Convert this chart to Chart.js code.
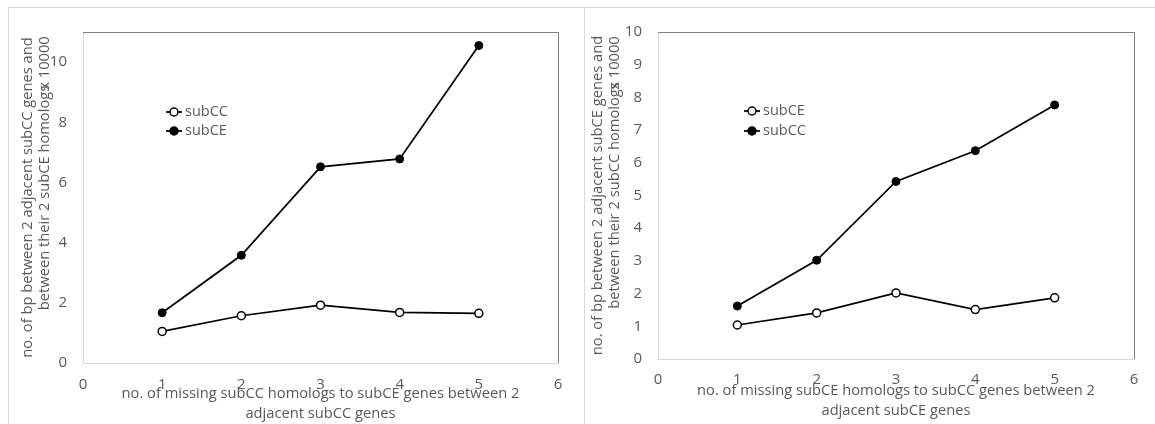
<!DOCTYPE html>
<html lang="en">
<head>
  <meta charset="UTF-8">
  <title>bp between adjacent genes vs missing homologs</title>
  <script src="https://cdn.jsdelivr.net/npm/chart.js"></script>
  <style>
    body { margin: 0; background: #fff; width: 1155px; height: 424px; overflow: hidden; position: relative; }
    .frame { position: absolute; top: 7px; height: 440px; border: 1px solid #d9d9d9; box-sizing: border-box; }
    #frameLeft { left: 8px; width: 577px; }
    #frameRight { left: 584px; width: 600px; }
    canvas { position: absolute; top: 7px; }
    #leftChart { left: 8px; }
    #rightChart { left: 584px; }
  </style>
</head>
<body>
  <div class="frame" id="frameLeft"></div>
  <div class="frame" id="frameRight"></div>
  <canvas id="leftChart" width="576" height="417"></canvas>
  <canvas id="rightChart" width="571" height="417"></canvas>
  <script>
    // x = no. of missing homologs
    const xValues = [1, 2, 3, 4, 5];

    // left panel (subCC genes)
    const leftSubCC = [1.05, 1.57, 1.92, 1.68, 1.65];
    const leftSubCE = [1.67, 3.58, 6.52, 6.78, 10.55];
    const leftYTicks = [0, 2, 4, 6, 8, 10];

    // right panel (subCE genes)
    const rightSubCE = [1.04, 1.41, 2.02, 1.51, 1.87];
    const rightSubCC = [1.62, 3.02, 5.43, 6.37, 7.77];
    const rightYTicks = [0, 1, 2, 3, 4, 5, 6, 7, 8, 9, 10];

    const xTicks = [0, 1, 2, 3, 4, 5, 6];

    const FONT = "'Open Sans', sans-serif";
    const TEXT = '#595959';
    const TITLE_SIZE = 14.7;
    const TICK_SIZE = 15;

    function toPoints(ys) {
      return xValues.map((x, i) => ({ x: x, y: ys[i] }));
    }

    function openSeries(label, ys) {
      return {
        label: label,
        data: toPoints(ys),
        borderColor: '#000',
        borderWidth: 1.75,
        pointRadius: 4,
        pointBorderWidth: 1.5,
        pointBackgroundColor: '#fff',
        pointBorderColor: '#000',
        open: true
      };
    }

    function filledSeries(label, ys) {
      return {
        label: label,
        data: toPoints(ys),
        borderColor: '#000',
        borderWidth: 1.75,
        pointRadius: 4,
        pointBorderWidth: 1,
        pointBackgroundColor: '#000',
        pointBorderColor: '#000',
        open: false
      };
    }

    // legend sits inside the plot area, excel style
    const insideLegend = {
      id: 'insideLegend',
      afterDatasetsDraw(chart, args, opts) {
        const ctx = chart.ctx;
        ctx.save();
        chart.data.datasets.forEach((ds, i) => {
          const y = opts.rows[i];
          const x = opts.x;
          ctx.strokeStyle = '#000';
          ctx.lineWidth = 1.75;
          ctx.beginPath();
          ctx.moveTo(x - 8, y);
          ctx.lineTo(x + 8, y);
          ctx.stroke();
          ctx.beginPath();
          ctx.arc(x, y, 4, 0, Math.PI * 2);
          ctx.fillStyle = ds.open ? '#fff' : '#000';
          ctx.fill();
          ctx.lineWidth = 1.5;
          ctx.stroke();
          ctx.fillStyle = TEXT;
          ctx.font = '14.5px ' + FONT;
          ctx.textBaseline = 'middle';
          ctx.textAlign = 'left';
          ctx.fillText(ds.label, x + 11, y);
        });
        ctx.restore();
      }
    };

    // top + right edge of plot area, and the "x 10000" note on the y title
    const plotFrame = {
      id: 'plotFrame',
      afterDraw(chart, args, opts) {
        const { ctx, chartArea: a } = chart;
        ctx.save();
        ctx.strokeStyle = '#808080';
        ctx.lineWidth = 1;
        ctx.beginPath();
        ctx.moveTo(a.left, a.top + 0.5);
        ctx.lineTo(a.right + 0.5, a.top + 0.5);
        ctx.lineTo(a.right + 0.5, a.bottom);
        ctx.stroke();
        ctx.translate(opts.noteX, opts.noteY);
        ctx.rotate(-Math.PI / 2);
        ctx.fillStyle = TEXT;
        ctx.font = TITLE_SIZE + 'px ' + FONT;
        ctx.textAlign = 'center';
        ctx.textBaseline = 'middle';
        ctx.fillText('x 10000', 0, 0);
        ctx.restore();
      }
    };

    function makeChart(id, datasets, cfg) {
      return new Chart(document.getElementById(id), {
        type: 'line',
        data: { datasets: datasets },
        options: {
          responsive: false,
          animation: false,
          layout: { padding: { left: 0, top: cfg.padTop, right: cfg.padRight, bottom: 0 } },
          plugins: {
            legend: { display: false },
            tooltip: { enabled: false },
            insideLegend: cfg.legend,
            plotFrame: { noteX: cfg.noteX, noteY: cfg.noteY }
          },
          scales: {
            x: {
              type: 'linear',
              min: 0,
              max: 6,
              afterBuildTicks: s => { s.ticks = xTicks.map(v => ({ value: v })); },
              afterFit: s => { s.height = cfg.xHeight; },
              grid: { display: false, drawTicks: false },
              border: { color: '#d9d9d9', width: 1 },
              ticks: { color: TEXT, font: { family: FONT, size: TICK_SIZE }, padding: cfg.xTickPad, maxRotation: 0 },
              title: {
                display: true,
                text: cfg.xTitle,
                color: TEXT,
                font: { family: FONT, size: TITLE_SIZE, lineHeight: '20px' },
                padding: { top: 0, bottom: cfg.xTitlePad }
              }
            },
            y: {
              type: 'linear',
              min: 0,
              max: cfg.yMax,
              afterBuildTicks: s => { s.ticks = cfg.yTicks.map(v => ({ value: v })); },
              afterFit: s => { s.width = cfg.yWidth; },
              grid: { display: false, drawTicks: false },
              border: { color: '#d9d9d9', width: 1 },
              ticks: { color: TEXT, font: { family: FONT, size: TICK_SIZE }, padding: 16 },
              title: {
                display: true,
                text: cfg.yTitle,
                color: TEXT,
                font: { family: FONT, size: TITLE_SIZE, lineHeight: '17px' },
                padding: { top: cfg.yTitlePad, bottom: 0 }
              }
            }
          }
        },
        plugins: [insideLegend, plotFrame]
      });
    }

    makeChart('leftChart',
      [openSeries('subCC', leftSubCC), filledSeries('subCE', leftSubCE)],
      {
        yMax: 11, yTicks: leftYTicks, yWidth: 75, xHeight: 61,
        padTop: 24, padRight: 26, xTickPad: 13, xTitlePad: 0, yTitlePad: 11.5,
        noteX: 37, noteY: 56,
        legend: { x: 166, rows: [105, 124] },
        yTitle: ['no. of bp between 2 adjacent subCC genes and', 'between their 2 subCE homologs'],
        xTitle: ['no. of missing subCC homologs to subCE genes between 2', 'adjacent subCC genes']
      });

    makeChart('rightChart',
      [openSeries('subCE', rightSubCE), filledSeries('subCC', rightSubCC)],
      {
        yMax: 10, yTicks: rightYTicks, yWidth: 74, xHeight: 65,
        padTop: 24, padRight: 21, xTickPad: 12, xTitlePad: 3, yTitlePad: 5.5,
        noteX: 31, noteY: 56,
        legend: { x: 168, rows: [104, 124] },
        yTitle: ['no. of bp between 2 adjacent subCE genes and', 'between their 2 subCC homologs'],
        xTitle: ['no. of missing subCE homologs to subCC genes between 2', 'adjacent subCE genes']
      });
  </script>
</body>
</html>
